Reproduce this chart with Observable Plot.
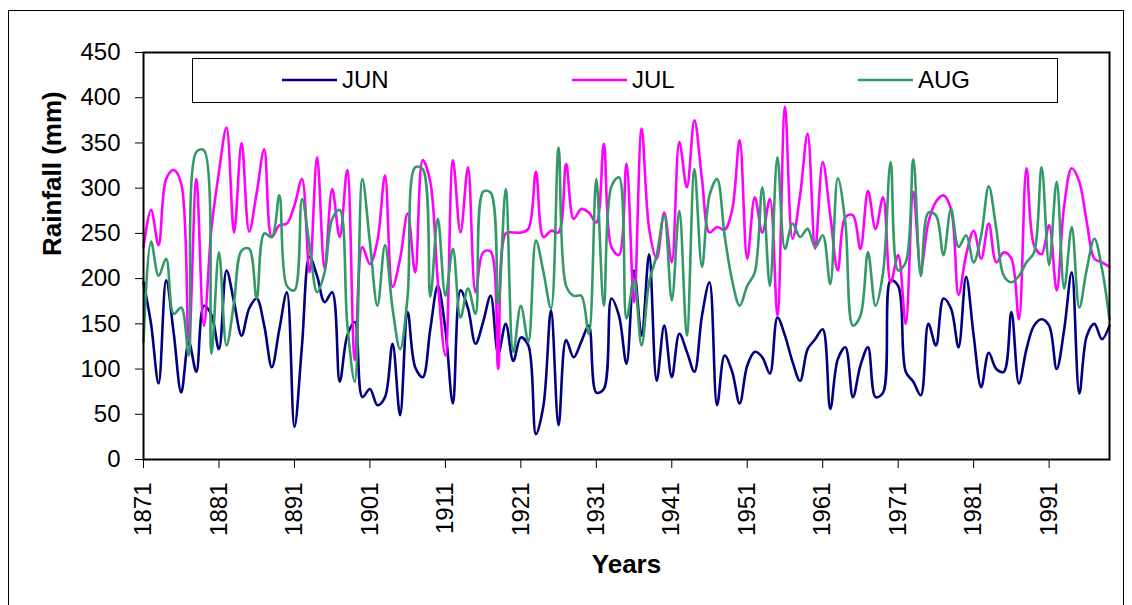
<!DOCTYPE html>
<html>
<head>
<meta charset="utf-8">
<script src="https://cdn.jsdelivr.net/npm/d3@7"></script>
<script src="https://cdn.jsdelivr.net/npm/@observablehq/plot@0.6"></script>
<style>
  html, body { margin: 0; padding: 0; background: #fff; }
  #chart { position: relative; width: 1132px; height: 605px; overflow: hidden; }
</style>
</head>
<body>
<div id="chart"></div>
<script>
const firstYear = 1871;
const lastYear = 1999;
const years = d3.range(firstYear, lastYear + 1);
const xTickYears = [1871, 1881, 1891, 1901, 1911, 1921, 1931, 1941, 1951, 1961, 1971, 1981, 1991];
const yTicks = [0, 50, 100, 150, 200, 250, 300, 350, 400, 450];
const seriesNames = ["JUN", "JUL", "AUG"];
const seriesColors = ["#000080", "#FF00FF", "#339966"];

const jun = [196,150,84,198,140,74,130,97,170,160,
  122,209,174,137,167,178,148,102,144,185,
  36,126,224,203,174,185,86,137,152,69,
  78,60,69,128,49,163,102,91,144,192,
  144,62,187,167,128,152,181,117,150,109,
  135,126,28,60,165,38,132,113,130,148,
  74,78,178,159,106,209,137,227,87,148,
  91,139,119,97,159,196,60,115,97,62,
  104,119,113,95,157,137,108,87,122,133,
  144,56,111,124,69,104,124,69,74,198,
  192,97,86,71,150,126,178,167,124,202,
  137,80,118,100,97,163,84,122,148,155,
  148,100,144,207,73,137,150,133,148];

const jul = [235,276,237,310,320,305,130,310,148,255,
  318,367,251,350,252,295,343,246,259,261,
  281,310,207,334,211,299,246,320,110,235,
  216,242,314,191,222,272,207,331,307,196,
  115,331,251,323,185,229,230,100,250,251,
  251,255,318,246,253,251,327,266,277,273,
  262,349,235,226,327,174,366,255,222,273,
  218,351,301,375,310,251,257,254,276,353,
  222,290,251,288,159,390,244,292,360,233,
  329,270,209,268,270,233,297,255,290,196,
  226,150,296,211,262,285,292,277,182,226,
  253,222,261,218,229,222,155,322,237,227,
  259,187,281,322,307,262,222,218,213];

const aug = [130,241,203,222,161,168,115,340,342,117,
  229,126,174,231,233,178,250,246,292,192,
  187,288,237,185,207,266,276,150,86,310,
  240,170,237,167,122,181,323,321,180,266,
  181,233,157,189,161,296,295,172,299,119,
  170,130,242,207,167,345,192,181,181,139,
  310,170,302,312,156,198,126,196,226,270,
  176,275,137,321,213,292,310,248,198,170,
  192,207,301,192,334,233,261,246,255,235,
  248,194,311,262,148,159,229,170,207,329,
  209,218,332,203,273,270,226,277,235,248,
  218,248,302,255,203,196,203,218,229,323,
  215,307,189,257,168,211,244,211,155];

const seriesValues = [jun, jul, aug];
const rows = [];
seriesNames.forEach((name, s) => {
  years.forEach((yr, i) => rows.push({series: name, year: yr, value: seriesValues[s][i]}));
});

const font = "'Liberation Sans', Arial, Helvetica, sans-serif";

const plot = Plot.plot({
  width: 1132,
  height: 605,
  marginLeft: 143,
  marginRight: 23,
  marginTop: 52,
  marginBottom: 146,
  style: {fontFamily: font, fontSize: "24px", color: "#000", background: "#fff", overflow: "visible"},
  x: {domain: [firstYear, lastYear]},
  y: {domain: [0, 450]},
  color: {domain: seriesNames, range: seriesColors},
  marks: [
    Plot.line(rows, {x: "year", y: "value", z: "series", stroke: "series", strokeWidth: 2.6, curve: "catmull-rom"}),
    Plot.frame({stroke: "#000", strokeWidth: 2}),
    Plot.axisY({ticks: yTicks, tickSize: 8, tickPadding: 15, fontSize: 24, label: null, stroke: "#000"}),
    Plot.axisX({ticks: xTickYears, tickFormat: d => String(d), tickRotate: -90, tickSize: 9, tickPadding: 14, fontSize: 24, label: null, stroke: "#000"}),
    Plot.text(["Rainfall (mm)"], {text: d => d, frameAnchor: "left", dx: -91, rotate: -90, fontSize: 26, fontWeight: "bold", fill: "#000"}),
    Plot.text(["Years"], {text: d => d, frameAnchor: "bottom", dy: 113, fontSize: 26, fontWeight: "bold", fill: "#000"})
  ]
});

document.getElementById("chart").appendChild(plot);

// Outer chart-area border and legend box drawn into the same SVG
const svg = d3.select(plot);
svg.insert("rect", ":first-child")
  .attr("x", 8.5).attr("y", 10.5).attr("width", 1115).attr("height", 610)
  .attr("fill", "#fff").attr("stroke", "#000").attr("stroke-width", 1);

const legend = svg.append("g").attr("font-family", font).attr("font-size", 24).attr("text-anchor", "start");
legend.append("rect")
  .attr("x", 192.5).attr("y", 58.5).attr("width", 865).attr("height", 44)
  .attr("fill", "#fff").attr("stroke", "#000").attr("stroke-width", 1);
const legendX = [282, 572, 858];
seriesNames.forEach((name, i) => {
  const g = legend.append("g").attr("transform", `translate(${legendX[i]},80)`);
  g.append("line").attr("x1", 0).attr("x2", 55).attr("y1", 0).attr("y2", 0)
    .attr("stroke", seriesColors[i]).attr("stroke-width", 2.6);
  g.append("text").attr("x", 60).attr("y", 0).attr("dy", "0.35em")
    .attr("text-anchor", "start").attr("fill", "#000").text(name);
});
</script>
</body>
</html>
